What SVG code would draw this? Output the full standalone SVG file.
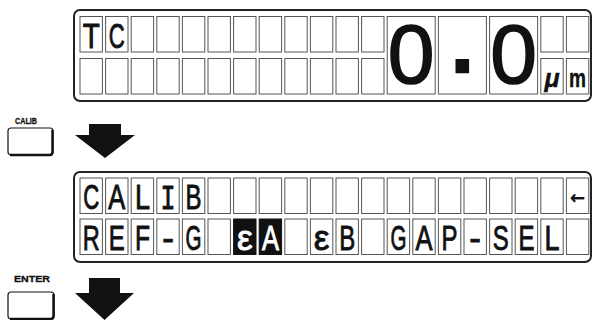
<svg xmlns="http://www.w3.org/2000/svg" width="593" height="320" viewBox="0 0 593 320">
<style>
.panel{fill:#fff;stroke:#222;stroke-width:2}
.cell{fill:#fff;stroke:#555;stroke-width:1}
.hcell{fill:#111;stroke:#111;stroke-width:1}
.ch{font-family:"Liberation Sans",Arial,sans-serif;font-size:35px;fill:#111;stroke:#111;stroke-width:0.9;text-anchor:middle}
.wch{fill:#fff;stroke:#fff}
.big{font-family:"Liberation Sans",Arial,sans-serif;font-size:84px;fill:#111;stroke:#111;stroke-width:1.6;text-anchor:middle}
.lbl{font-family:"Liberation Sans",Arial,sans-serif;font-size:9px;font-weight:bold;fill:#111;stroke:#111;stroke-width:0.3}
.btn{fill:#fff;stroke:#111;stroke-width:1.2}
.btnsh{fill:none;stroke:#111;stroke-width:2.4}
.arrow{fill:#111}
</style>
<defs>
<rect id="c" class="cell" width="22.4" height="35.5"/>
<rect id="bc" class="cell" width="48" height="77.5"/>
</defs>

<g id="display-top">
<rect class="panel" x="74" y="10" width="517" height="91" rx="6"/>
<g>
<use href="#c" x="80" y="16.5"/><use href="#c" x="105.6" y="16.5"/><use href="#c" x="131.2" y="16.5"/><use href="#c" x="156.8" y="16.5"/><use href="#c" x="182.4" y="16.5"/><use href="#c" x="208" y="16.5"/><use href="#c" x="233.6" y="16.5"/><use href="#c" x="259.2" y="16.5"/><use href="#c" x="284.8" y="16.5"/><use href="#c" x="310.4" y="16.5"/><use href="#c" x="336" y="16.5"/><use href="#c" x="361.6" y="16.5"/>
<use href="#c" x="540.8" y="16.5"/><use href="#c" x="566.4" y="16.5"/>
<use href="#c" x="80" y="58.5"/><use href="#c" x="105.6" y="58.5"/><use href="#c" x="131.2" y="58.5"/><use href="#c" x="156.8" y="58.5"/><use href="#c" x="182.4" y="58.5"/><use href="#c" x="208" y="58.5"/><use href="#c" x="233.6" y="58.5"/><use href="#c" x="259.2" y="58.5"/><use href="#c" x="284.8" y="58.5"/><use href="#c" x="310.4" y="58.5"/><use href="#c" x="336" y="58.5"/><use href="#c" x="361.6" y="58.5"/>
<use href="#c" x="540.8" y="58.5"/><use href="#c" x="566.4" y="58.5"/>
<use href="#bc" x="387.2" y="16.5"/><use href="#bc" x="438.4" y="16.5"/><use href="#bc" x="489.6" y="16.5"/>
</g>
<text class="ch" x="91.2" y="47.5" textLength="17" lengthAdjust="spacingAndGlyphs">T</text>
<text class="ch" x="116.8" y="47.5" textLength="16" lengthAdjust="spacingAndGlyphs">C</text>
<text class="big" x="411.2" y="82.5">0</text>
<text class="big" x="462.4" y="72" style="font-size:78px;font-weight:bold;stroke-width:2.6">.</text>
<text class="big" x="513.6" y="82.5">0</text>
<text class="ch" x="552" y="87" style="font-size:25px;font-weight:bold;font-style:italic;stroke-width:0.4">μ</text>
<text class="ch" x="577.6" y="87" style="font-size:26px;font-weight:bold;stroke-width:0.4" textLength="17" lengthAdjust="spacingAndGlyphs">m</text>
</g>

<g id="display-bottom">
<rect class="panel" x="74" y="172" width="517" height="90" rx="6"/>
<g>
<use href="#c" x="80" y="178"/><use href="#c" x="105.6" y="178"/><use href="#c" x="131.2" y="178"/><use href="#c" x="156.8" y="178"/><use href="#c" x="182.4" y="178"/><use href="#c" x="208" y="178"/><use href="#c" x="233.6" y="178"/><use href="#c" x="259.2" y="178"/><use href="#c" x="284.8" y="178"/><use href="#c" x="310.4" y="178"/><use href="#c" x="336" y="178"/><use href="#c" x="361.6" y="178"/><use href="#c" x="387.2" y="178"/><use href="#c" x="412.8" y="178"/><use href="#c" x="438.4" y="178"/><use href="#c" x="464" y="178"/><use href="#c" x="489.6" y="178"/><use href="#c" x="515.2" y="178"/><use href="#c" x="540.8" y="178"/><use href="#c" x="566.4" y="178"/>
<use href="#c" x="80" y="219"/><use href="#c" x="105.6" y="219"/><use href="#c" x="131.2" y="219"/><use href="#c" x="156.8" y="219"/><use href="#c" x="182.4" y="219"/><use href="#c" x="208" y="219"/><use href="#c" x="284.8" y="219"/><use href="#c" x="310.4" y="219"/><use href="#c" x="336" y="219"/><use href="#c" x="361.6" y="219"/><use href="#c" x="387.2" y="219"/><use href="#c" x="412.8" y="219"/><use href="#c" x="438.4" y="219"/><use href="#c" x="464" y="219"/><use href="#c" x="489.6" y="219"/><use href="#c" x="515.2" y="219"/><use href="#c" x="540.8" y="219"/><use href="#c" x="566.4" y="219"/>
<rect class="hcell" x="233.6" y="219" width="22.4" height="35.5"/><rect class="hcell" x="259.2" y="219" width="22.4" height="35.5"/>
</g>
<text class="ch" x="91.2" y="208.5" textLength="16" lengthAdjust="spacingAndGlyphs">C</text>
<text class="ch" x="116.8" y="208.5" textLength="17" lengthAdjust="spacingAndGlyphs">A</text>
<text class="ch" x="142.4" y="208.5" textLength="15" lengthAdjust="spacingAndGlyphs">L</text>
<text class="ch" x="168" y="208.5" style="font-family:'Liberation Mono',monospace" textLength="15" lengthAdjust="spacingAndGlyphs">I</text>
<text class="ch" x="193.6" y="208.5" textLength="16" lengthAdjust="spacingAndGlyphs">B</text>
<text class="ch" x="577.6" y="203.5" style="font-family:'DejaVu Sans',sans-serif;font-size:18px;font-weight:bold;stroke-width:0.3">←</text>
<text class="ch" x="91.2" y="249.5" textLength="17" lengthAdjust="spacingAndGlyphs">R</text>
<text class="ch" x="116.8" y="249.5" textLength="16" lengthAdjust="spacingAndGlyphs">E</text>
<text class="ch" x="142.4" y="249.5" textLength="15" lengthAdjust="spacingAndGlyphs">F</text>
<text class="ch" x="168" y="249.5">-</text>
<text class="ch" x="193.6" y="249.5" textLength="16" lengthAdjust="spacingAndGlyphs">G</text>
<text class="ch wch" x="244.8" y="249.5">ε</text>
<text class="ch wch" x="270.4" y="249.5" textLength="17" lengthAdjust="spacingAndGlyphs">A</text>
<text class="ch" x="321.6" y="249.5">ε</text>
<text class="ch" x="347.2" y="249.5" textLength="16" lengthAdjust="spacingAndGlyphs">B</text>
<text class="ch" x="398.4" y="249.5" textLength="16" lengthAdjust="spacingAndGlyphs">G</text>
<text class="ch" x="424" y="249.5" textLength="17" lengthAdjust="spacingAndGlyphs">A</text>
<text class="ch" x="449.6" y="249.5" textLength="16" lengthAdjust="spacingAndGlyphs">P</text>
<text class="ch" x="475.2" y="249.5">-</text>
<text class="ch" x="500.8" y="249.5" textLength="16" lengthAdjust="spacingAndGlyphs">S</text>
<text class="ch" x="526.4" y="249.5" textLength="16" lengthAdjust="spacingAndGlyphs">E</text>
<text class="ch" x="552" y="249.5" textLength="15" lengthAdjust="spacingAndGlyphs">L</text>
</g>

<g id="btn-calib">
<text class="lbl" x="15" y="123.5" textLength="22" lengthAdjust="spacingAndGlyphs">CALIB</text>
<rect class="btn" x="8" y="128" width="45" height="27" rx="3"/>
<path class="btnsh" d="M52.5 130 V152 Q52.5 155 49.5 155 H10"/>
</g>

<g id="btn-enter">
<text class="lbl" x="14" y="282" textLength="36" lengthAdjust="spacingAndGlyphs">ENTER</text>
<rect class="btn" x="8" y="292" width="46" height="27" rx="3"/>
<path class="btnsh" d="M53.5 294 V316 Q53.5 319 50.5 319 H10"/>
</g>

<g id="connectors">
<polygon class="arrow" points="89,124 121,124 121,135 135,135 105,158 75,135 89,135"/>
<polygon class="arrow" points="89,278 120,278 120,293 134,293 104.5,320 75,293 89,293"/>
</g>
</svg>
